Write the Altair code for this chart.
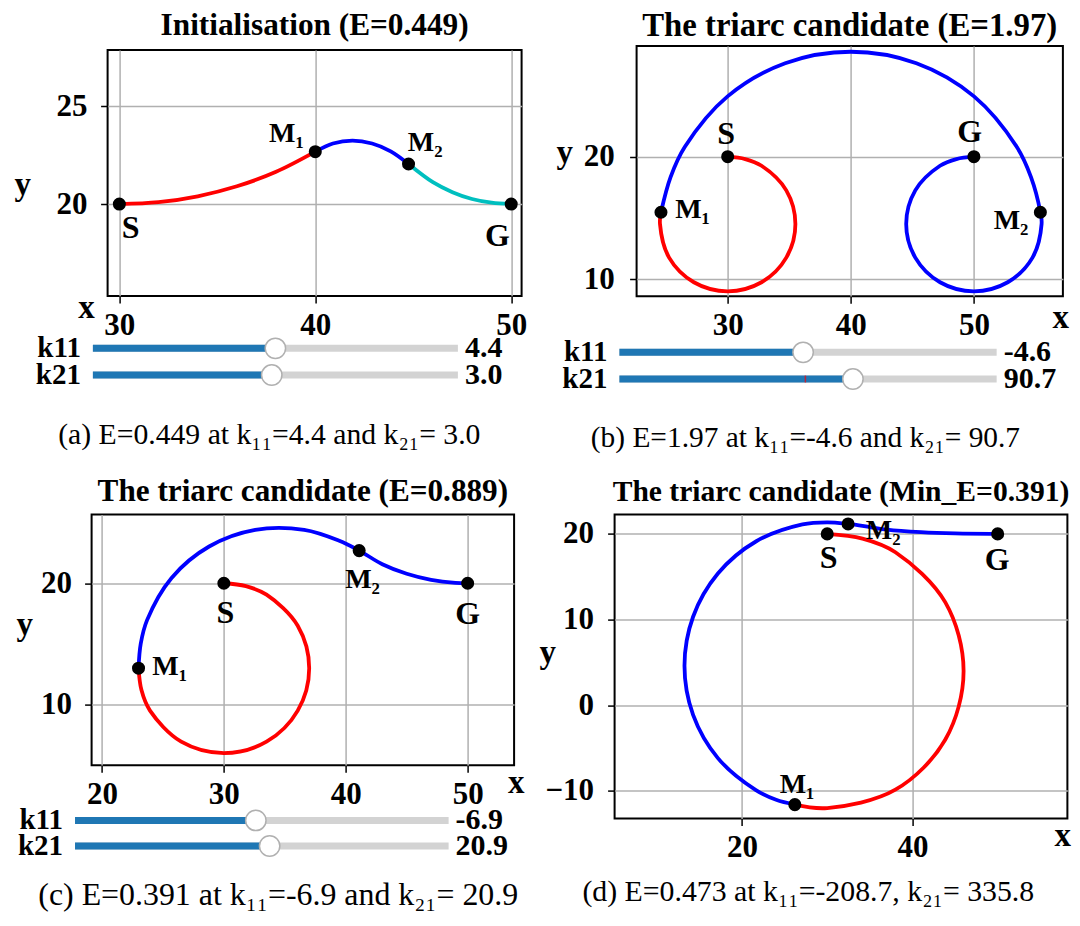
import altair as alt
import pandas as pd

SERIF = "Liberation Serif"
RED, BLUE, CYAN = "#ff0000", "#0000ff", "#00bfbf"

# ---------------- data ----------------
# panel (a)
a_red_x = [30, 32, 34, 36, 38, 40]
a_red_y = [20, 20.10, 20.40, 20.91, 21.65, 22.68]
a_blue_x = [40, 40.9, 41.9, 42.9, 43.85, 44.76]
a_blue_y = [22.68, 23.10, 23.25, 23.10, 22.70, 22.05]
a_cyan_x = [44.76, 46, 47, 48, 49, 50]
a_cyan_y = [22.05, 21.12, 20.61, 20.26, 20.07, 20]
a_pts_x = [30, 40, 44.76, 50]
a_pts_y = [20, 22.68, 22.05, 20]
a_lab_x = [30.58, 38.53, 45.61, 49.3]
a_lab_y = [18.76, 23.58, 23.11, 18.38]

# panel (b)
b_red_x = [30, 31.42, 32.75, 34.76, 35.5, 34.76, 32.75, 30, 27.25, 25.24, 24.5, 24.58]
b_red_y = [20, 19.81, 19.26, 17.25, 14.5, 11.75, 9.74, 9.0, 9.74, 11.75, 14.5, 15.46]
b_blue_x = [24.58, 25.36, 26.51, 29.99, 34.67, 40, 45.33, 50.01, 53.49, 54.64, 55.4,
            55.5, 54.76, 52.75, 50, 47.25, 45.24, 44.5, 45.24, 47.25, 48.58, 50]
b_blue_y = [15.46, 18.33, 20.79, 24.93, 27.64, 28.58, 27.64, 24.93, 20.79, 18.33, 15.46,
            14.5, 11.75, 9.74, 9.0, 9.74, 11.75, 14.5, 17.25, 19.26, 19.81, 20]
b_pts_x = [30, 24.58, 55.4, 50]
b_pts_y = [20, 15.46, 15.46, 20]
b_lab_x = [29.87, 27.15, 53.02, 49.66]
b_lab_y = [21.86, 15.66, 14.77, 22.04]

# panel (c)
c_red_x = [30, 31.81, 33.5, 36.06, 37, 36.06, 33.5, 30, 26.5, 23.94, 23.24, 23]
c_red_y = [20, 19.76, 19.06, 16.5, 13, 9.5, 6.94, 6, 6.94, 9.5, 11.19, 13]
c_blue_x = [23, 23.18, 23.70, 25.71, 28.79, 32.57, 36.59, 39.47, 41.1, 43, 45, 47, 49, 50]
c_blue_y = [13, 15.01, 16.96, 20.44, 23.03, 24.40, 24.40, 23.50, 22.69, 21.57, 20.78, 20.28,
            20.03, 20]
c_pts_x = [30, 23, 41.1, 50]
c_pts_y = [20, 13, 22.69, 20]
c_lab_x = [30.13, 25.56, 41.38, 50.0]
c_lab_y = [17.55, 13.09, 20.3, 17.49]

# panel (d)
d_red_x = [30, 34.14, 38, 43.86, 46, 43.86, 38, 30, 26.2]
d_red_y = [20, 19.45, 17.86, 12, 4, -4, -9.86, -12, -11.6]
d_blue_x = [26.2, 24.0, 21.63, 17.17, 14.26, 13.25, 14.26, 17.17, 21.63, 27.09, 30, 32.45,
            35, 37, 41, 45, 50]
d_blue_y = [-11.6, -11.04, -9.91, -6.17, -1.13, 4.6, 10.33, 15.37, 19.11, 21.10, 21.35, 21.16,
            20.8, 20.5, 20.2, 20.05, 20]
d_pts_x = [30, 26.2, 32.45, 50]
d_pts_y = [20, -11.6, 21.16, 20]
d_lab_x = [30.16, 26.46, 36.57, 49.94]
d_lab_y = [17.2, -9.31, 20.3, 17.0]

lab_text = ["S", "M\u2081", "M\u2082", "G"]

# sliders: handle position as fraction of the track, shown value
slider_names = ["k11", "k21"]
a_sl_f, a_sl_v = [0.50, 0.49], ["4.4", "3.0"]
b_sl_f, b_sl_v = [0.487, 0.619], ["-4.6", "90.7"]
b_sl_mark = 0.493
c_sl_f, c_sl_v = [0.484, 0.521], ["-6.9", "20.9"]

titles = ["Initialisation (E=0.449)", "The triarc candidate (E=1.97)",
          "The triarc candidate (E=0.889)", "The triarc candidate (Min_E=0.391)"]
captions = ["(a) E=0.449 at k\u2081\u2081=4.4 and k\u2082\u2081= 3.0",
            "(b) E=1.97 at k\u2081\u2081=-4.6 and k\u2082\u2081= 90.7",
            "(c) E=0.391 at k\u2081\u2081=-6.9 and k\u2082\u2081= 20.9",
            "(d) E=0.473 at k\u2081\u2081=-208.7, k\u2082\u2081= 335.8"]

NOFRAME = alt.ViewBackground(stroke="transparent")


def cap(text, dx, offset, fs):
    return alt.TitleParams(text, orient="bottom", frame="group", anchor="middle", dx=dx,
                           offset=offset, baseline="middle", font=SERIF, fontSize=fs,
                           fontWeight="normal", color="black")


def spacer(w, h, title=None):
    df = pd.DataFrame({"s": [0]})
    c = alt.Chart(df).mark_point(opacity=0, size=1).encode(
        x=alt.X("s:Q", axis=None), y=alt.Y("s:Q", axis=None)
    ).properties(width=w, height=h, view=NOFRAME)
    if title is not None:
        c = c.properties(title=title)
    return c


def plot(segs, px, py, lx, ly, title, tfs, toff, xdom, ydom, w, h, xt, yt, xtt, ytt, ylp):
    rows = []
    for name, xs, ys in segs:
        for i, (xv, yv) in enumerate(zip(xs, ys)):
            rows.append({"x": xv, "y": yv, "seg": name, "i": i})
    cdf = pd.DataFrame(rows)
    names = [s[0] for s in segs]
    cmap = {"red": RED, "blue": BLUE, "cyan": CYAN}
    xs = alt.Scale(domain=xdom, nice=False, zero=False)
    ys = alt.Scale(domain=ydom, nice=False, zero=False)
    xax = alt.Axis(values=xt, title="x", titleX=xtt[0], titleY=xtt[1], titleAngle=0,
                   titleAlign="center", titleBaseline="alphabetic", labelPadding=7)
    yax = alt.Axis(values=yt, title="y", titleX=ytt[0], titleY=ytt[1], titleAngle=0,
                   titleAlign="center", titleBaseline="alphabetic", labelPadding=ylp)
    lines = alt.Chart(cdf).mark_line(strokeWidth=3.8, interpolate="catmull-rom").encode(
        x=alt.X("x:Q", scale=xs, axis=xax),
        y=alt.Y("y:Q", scale=ys, axis=yax),
        color=alt.Color("seg:N", scale=alt.Scale(domain=names, range=[cmap[n] for n in names]),
                        legend=None),
        order="i:Q",
    )
    pdf = pd.DataFrame({"x": px, "y": py})
    pts = alt.Chart(pdf).mark_circle(size=170, color="black", opacity=1).encode(
        x=alt.X("x:Q", scale=xs), y=alt.Y("y:Q", scale=ys))
    ldf = pd.DataFrame({"x": lx, "y": ly, "t": lab_text})
    big = alt.Chart(ldf).transform_filter("datum.t == 'S' || datum.t == 'G'").mark_text(
        font=SERIF, fontWeight="bold", fontSize=32, color="black", align="center",
        baseline="middle").encode(x=alt.X("x:Q", scale=xs), y=alt.Y("y:Q", scale=ys), text="t:N")
    small = alt.Chart(ldf).transform_filter("datum.t != 'S' && datum.t != 'G'").mark_text(
        font=SERIF, fontWeight="bold", fontSize=28, color="black", align="center",
        baseline="middle").encode(x=alt.X("x:Q", scale=xs), y=alt.Y("y:Q", scale=ys), text="t:N")
    return alt.layer(lines, pts, big, small).properties(
        width=w, height=h,
        title=alt.TitleParams(title, font=SERIF, fontWeight="bold", fontSize=tfs, color="black",
                              frame="group", anchor="middle", offset=toff, baseline="alphabetic"),
    )


def slider(fr, vals, dom, w, h, title, mark=None):
    df = pd.DataFrame({"k": slider_names, "f": fr, "v": vals, "zero": [0, 0], "one": [1, 1]})
    xsc = alt.Scale(domain=dom, nice=False, zero=False)
    yenc = alt.Y("k:N", scale=alt.Scale(type="point", padding=0.5), axis=None)
    base = alt.Chart(df)
    track = base.mark_rule(color="#d3d3d3", strokeWidth=7).encode(
        x=alt.X("zero:Q", scale=xsc, axis=None), x2="one:Q", y=yenc)
    fill = base.mark_rule(color="#1f77b4", strokeWidth=7).encode(
        x=alt.X("zero:Q", scale=xsc, axis=None), x2="f:Q", y=yenc)
    layers = [track, fill]
    if mark is not None:
        mdf = pd.DataFrame({"k": ["k21"], "f": [mark]})
        layers.append(alt.Chart(mdf).mark_tick(orient="vertical", color="red", size=7,
                                               thickness=1.5).encode(
            x=alt.X("f:Q", scale=xsc, axis=None), y=yenc))
    knob = base.mark_circle(size=415, fill="white", stroke="#b0b0b0", strokeWidth=1.5,
                            opacity=1).encode(x=alt.X("f:Q", scale=xsc, axis=None), y=yenc)
    lab = base.mark_text(align="right", dx=-12, font=SERIF, fontWeight="bold", fontSize=29,
                         color="black", baseline="middle").encode(
        x=alt.X("zero:Q", scale=xsc, axis=None), y=yenc, text="k:N")
    val = base.mark_text(align="left", dx=7, font=SERIF, fontWeight="bold", fontSize=30,
                         color="black", baseline="middle").encode(
        x=alt.X("one:Q", scale=xsc, axis=None), y=yenc, text="v:N")
    layers += [knob, lab, val]
    return alt.layer(*layers).properties(width=w, height=h, view=NOFRAME, title=title)


pA = plot([("red", a_red_x, a_red_y), ("blue", a_blue_x, a_blue_y), ("cyan", a_cyan_x, a_cyan_y)],
          a_pts_x, a_pts_y, a_lab_x, a_lab_y, titles[0], 31.3, -16.0, [29.40, 50.53], [15.30, 27.88],
          414, 246, [30, 40, 50], [20, 25], (-21.5, 21), (-85.3, 144), 13.5)
pB = plot([("red", b_red_x, b_red_y), ("blue", b_blue_x, b_blue_y)],
          b_pts_x, b_pts_y, b_lab_x, b_lab_y, titles[1], 32.8, -25.0, [22.60, 57.23], [8.59, 29.05],
          426.3, 250.3, [30, 40, 50], [10, 20], (423.6, 30.7), (-72.4, 116.5), 15.4)
pC = plot([("red", c_red_x, c_red_y), ("blue", c_blue_x, c_blue_y)],
          c_pts_x, c_pts_y, c_lab_x, c_lab_y, titles[2], 31.2, -17.5, [19.15, 53.81], [5.0, 25.66],
          422.5, 250.6, [20, 30, 40, 50], [10, 20], (424.2, 27.7), (-67.4, 120.3), 13)
pD = plot([("red", d_red_x, d_red_y), ("blue", d_blue_x, d_blue_y)],
          d_pts_x, d_pts_y, d_lab_x, d_lab_y, titles[3], 29.6, -15.9, [5.05, 58.18], [-13.23, 22.25],
          452.8, 304, [20, 40], [-10, 0, 10, 20], (447.7, 27.3), (-67.3, 148.3), 14)

sA = slider(a_sl_f, a_sl_v, [0.0403, 1.1745], 414, 53.4,
            cap(captions[0], -45.3, 44.65, 29.7))
sB = slider(b_sl_f, b_sl_v, [0.0456, 1.1756], 426.3, 53.4,
            cap(captions[1], -44.3, 44.25, 29.4), mark=b_sl_mark)
sC = slider(c_sl_f, c_sl_v, [0.0444, 1.1753], 422.5, 51.2,
            cap(captions[2], -24.6, 894 - 860.1, 31.9))

panelA = alt.vconcat(spacer(1, 4), pA, spacer(1, 38.95), sA, spacing=0, bounds="flush")
panelB = alt.vconcat(pB, spacer(1, 41.65), sB, spacing=0, bounds="flush")
panelC = alt.vconcat(pC, spacer(1, 41.6), sC, spacing=0, bounds="flush")
panelD = alt.vconcat(pD, spacer(452.8, 1, cap(captions[3], -32.7, 894 - 821.7, 29.8)),
                     spacing=0, bounds="flush")

row1 = alt.hconcat(spacer(0.5, 1), panelA, spacer(23.25, 1), panelB, spacing=0)
row2 = alt.hconcat(spacer(2.6, 1), panelC, spacer(9.2, 1), panelD, spacing=0)

chart = alt.vconcat(row1, row2, spacing=20.6).properties(
    padding={"left": 0.6, "top": 0, "right": 0, "bottom": 0}, background="white"
).configure_view(stroke="black", strokeWidth=2).configure_axis(
    grid=True, gridColor="#b0b0b0", gridWidth=1.5, domain=False,
    tickColor="black", tickSize=7, tickWidth=1.5,
    labelFont=SERIF, labelFontWeight="bold", labelFontSize=31, labelColor="black",
    titleFont=SERIF, titleFontWeight="bold", titleFontSize=33, titleColor="black",
)

chart.save("out.html", embed_options={"renderer": "svg", "actions": False})
